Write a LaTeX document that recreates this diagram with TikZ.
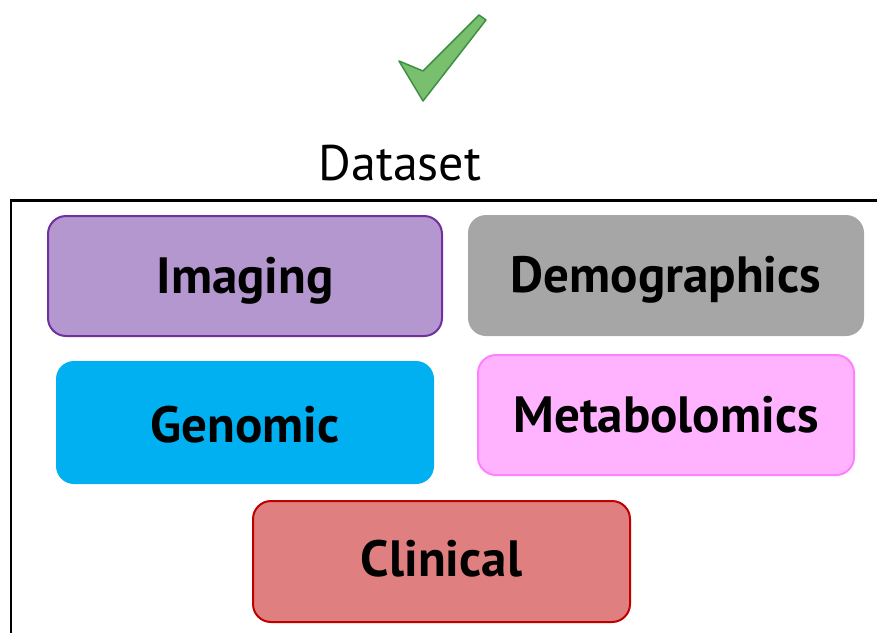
\documentclass[tikz,border=0pt]{standalone}
\usepackage{fontspec}
\setmainfont{PT Sans}
\definecolor{imgfill}{HTML}{B497CF}
\definecolor{imgline}{HTML}{7030A0}
\definecolor{demfill}{HTML}{A6A6A6}
\definecolor{genfill}{HTML}{00B0F0}
\definecolor{metfill}{HTML}{FFB3FF}
\definecolor{metline}{HTML}{FF80FF}
\definecolor{clifill}{HTML}{DF7F7F}
\definecolor{cliline}{HTML}{C00000}
\definecolor{tickfill}{HTML}{78C06E}
\definecolor{tickline}{HTML}{3F8F45}
\begin{document}
\begin{tikzpicture}[x=1pt,y=-1pt,
  source/.style={rounded corners=18pt, line width=2pt, inner sep=0pt,
    text height=34pt, text depth=0pt,
    font=\fontsize{51}{60}\selectfont\bfseries},
  title/.style={font=\fontsize{50}{60}\selectfont}]
\useasboundingbox (0,0) rectangle (877,632);
% outer frame of the dataset (runs past the page on the right and bottom)
\draw[line width=2.5pt] (11,700) -- (11,200.5) -- (900,200.5);
% check mark
\filldraw[fill=tickfill, draw=tickline, line width=1.5pt, line join=round]
  (399,61) -- (423,71) -- (479,15) -- (486,20) -- (423,101) -- cycle;
\node[title] (dataset) at (400,163) {Dataset};
% data sources
\node[source, fill=imgfill, draw=imgline, minimum width=394pt, minimum height=120pt]
  (imaging) at (245,276) {Imaging};
\node[source, fill=demfill, minimum width=396pt, minimum height=121pt]
  (demo) at (666,275.5) {Demographics};
\node[source, fill=genfill, minimum width=378pt, minimum height=123pt,
  text height=39pt] (genomic) at (245,422.5) {Genomic};
\node[source, fill=metfill, draw=metline, minimum width=376pt, minimum height=120pt]
  (metab) at (666,415) {Metabolomics};
\node[source, fill=clifill, draw=cliline, minimum width=377pt, minimum height=121pt,
  text height=29pt] (clinical) at (441.5,561.5) {Clinical};
\end{tikzpicture}
\end{document}
